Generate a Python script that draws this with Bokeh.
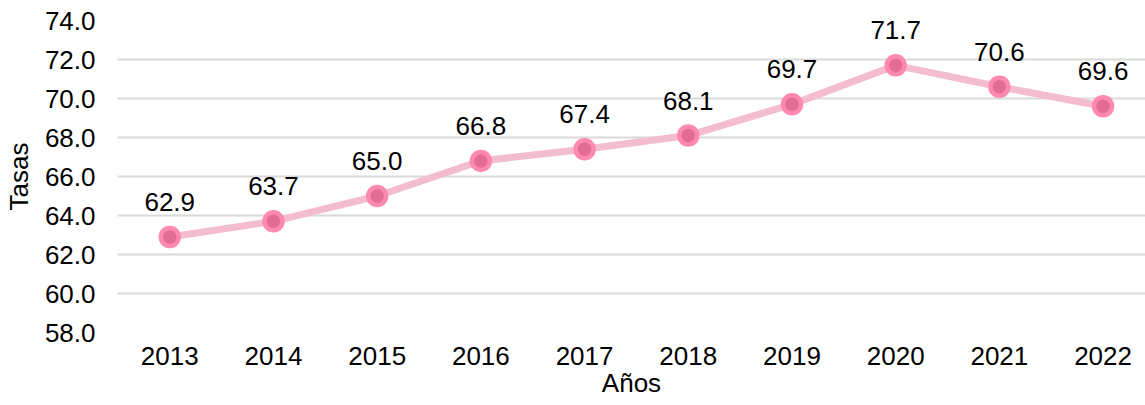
from bokeh.plotting import figure
from bokeh.models import ColumnDataSource, Range1d, FixedTicker, LabelSet, CustomJSTickFormatter
from bokeh.core.properties import value
from bokeh.embed import file_html
from bokeh.resources import INLINE

years = [2013, 2014, 2015, 2016, 2017, 2018, 2019, 2020, 2021, 2022]
rates = [62.9, 63.7, 65.0, 66.8, 67.4, 68.1, 69.7, 71.7, 70.6, 69.6]
y_ticks = [58, 60, 62, 64, 66, 68, 70, 72, 74]

labels = [f"{v:.1f}" for v in rates]
src = ColumnDataSource(dict(x=years, y=rates, lab=labels))

FONT = "Liberation Sans"
FS = "26px"

p = figure(frame_width=1028, frame_height=312, output_backend="svg", toolbar_location=None,
           x_range=Range1d(2012.496, 2022.409), y_range=Range1d(58, 74),
           min_border_left=117, min_border_right=0, min_border_top=20, min_border_bottom=0)
p.outline_line_color = None
p.background_fill_color = "white"
p.border_fill_color = "white"

p.xgrid.grid_line_color = None
p.ygrid.grid_line_color = "#D9D9D9"
p.ygrid.grid_line_width = 2

p.yaxis.ticker = FixedTicker(ticks=y_ticks)
p.xaxis.ticker = FixedTicker(ticks=years)
p.yaxis.formatter = CustomJSTickFormatter(code="return tick.toFixed(1);")
p.xaxis.formatter = CustomJSTickFormatter(code="return tick.toFixed(0);")

for ax in (p.xaxis, p.yaxis):
    ax.axis_line_color = None
    ax.major_tick_line_color = None
    ax.minor_tick_line_color = None
    ax.major_tick_out = 0
    ax.major_tick_in = 0
    ax.major_label_text_font = FONT
    ax.major_label_text_font_size = FS
    ax.major_label_text_color = "black"
    ax.axis_label_text_font = FONT
    ax.axis_label_text_font_size = FS
    ax.axis_label_text_font_style = "normal"
    ax.axis_label_text_color = "black"

p.yaxis.axis_label = "Tasas"
p.xaxis.axis_label = "Años"
p.yaxis.major_label_standoff = 22
p.yaxis.axis_label_standoff = 8
p.xaxis.major_label_standoff = 14
p.xaxis.axis_label_standoff = 0

p.line("x", "y", source=src, line_color="#F4BCD0", line_width=7)
p.scatter("x", "y", source=src, size=18, fill_color="#E26C94", line_color="#FF89B0", line_width=4.5)

ls = LabelSet(x="x", y="y", text="lab", source=src, y_offset=35, text_align="center",
              text_baseline="middle", text_font=value(FONT), text_font_size=value(FS),
              text_color="black")
p.add_layout(ls)

open("out.html", "w").write(file_html(p, INLINE))
